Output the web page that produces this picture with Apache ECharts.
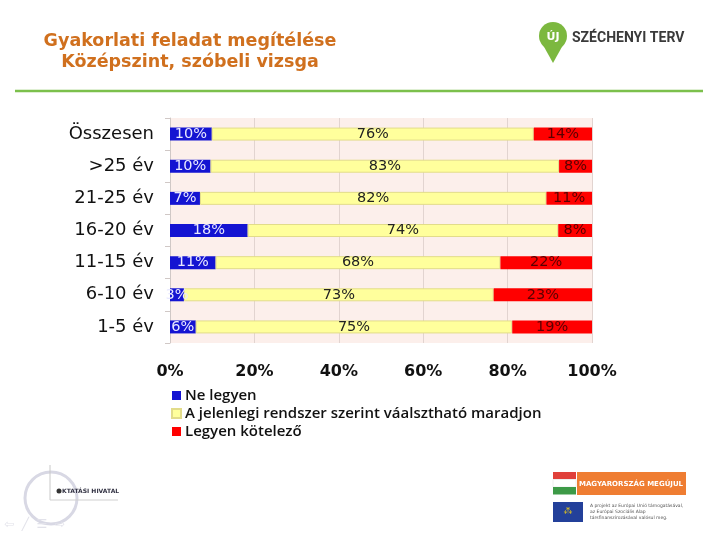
<!DOCTYPE html>
<html><head><meta charset="utf-8">
<script src="https://cdn.jsdelivr.net/npm/echarts@6/dist/echarts.min.js"></script>
<style>html,body{margin:0;padding:0;background:#fff}#c{width:720px;height:540px}</style>
</head><body><div id="c"></div>
<script>
const categories = ['Összesen', '>25 év', '21-25 év', '16-20 év', '11-15 év', '6-10 év', '1-5 év'];
const seriesNames = ['Ne legyen', 'A jelenlegi rendszer szerint váalsztható maradjon', 'Legyen kötelező'];
const neLegyen = [9.9, 9.6, 7.1, 18.4, 10.8, 3.3, 6.1];
const valaszthato = [76.3, 82.6, 82.1, 73.6, 67.5, 73.4, 75.0];
const kotelezo = [13.8, 7.8, 10.8, 8.0, 21.7, 23.3, 18.9];
const xTicks = [0, 20, 40, 60, 80, 100];

const chart = echarts.init(document.getElementById('c'), null, {renderer: 'canvas'});
const labelFont = 'DejaVu Sans, Verdana, sans-serif';
function mk(name, data, color, labelColor, border) {
  return {
    name: name, type: 'bar', stack: 'all', data: data, barWidth: 13,
    itemStyle: {color: color, borderColor: border || color, borderWidth: border ? 1 : 0},
    label: {show: true, position: 'inside', color: labelColor, fontFamily: labelFont, fontSize: 14.5,
      formatter: p => Math.round(p.value) + '%'},
    emphasis: {disabled: true}
  };
}
chart.setOption({
  animation: false,
  backgroundColor: '#fff',
  grid: {left: 170, right: 128, top: 118, bottom: 197, show: true, backgroundColor: '#fcefeb', borderWidth: 0},
  xAxis: {type: 'value', min: 0, max: 100, interval: 20,
    axisLine: {show: false}, axisTick: {show: false},
    splitLine: {show: true, lineStyle: {color: '#e2d4d0', width: 1}},
    axisLabel: {formatter: v => v + '%', color: '#111', fontFamily: labelFont, fontWeight: 'bold', fontSize: 16, margin: 21}
  },
  yAxis: {type: 'category', data: categories, inverse: true,
    axisLine: {show: true, lineStyle: {color: '#d0c8c6'}},
    axisTick: {show: true, length: 5, lineStyle: {color: '#d0c8c6'}},
    axisLabel: {color: '#111', fontFamily: labelFont, fontSize: 18, margin: 16}
  },
  legend: {orient: 'vertical', left: 166, top: 383, itemWidth: 9, itemHeight: 9, itemGap: 3,
    icon: 'rect', selectedMode: false,
    textStyle: {color: '#111', fontFamily: 'Open Sans, Noto Sans, sans-serif', fontWeight: 600, fontSize: 15, padding: [0,0,0,-1]},
    data: seriesNames
  },
  series: [
    mk(seriesNames[0], neLegyen, '#1414d2', '#e8e8ff'),
    mk(seriesNames[1], valaszthato, '#ffff9c', '#222', '#e2dc8a'),
    mk(seriesNames[2], kotelezo, '#ff0000', '#5a0000')
  ],
  graphic: [
    {type: 'text', style: {text: 'Gyakorlati feladat megítélése\nKözépszint, szóbeli vizsga', x: 190, y: 31,
      align: 'center', fill: '#d0701e', font: 'bold 17.5px DejaVu Sans, Verdana, sans-serif', lineHeight: 21}},
    {type: 'line', shape: {x1: 15, y1: 91, x2: 703, y2: 91}, style: {stroke: '#7cc04c', lineWidth: 2.5}},
    // Széchenyi Terv logo
    {type: 'polygon', shape: {points: [[543, 45], [563, 45], [553, 63]]}, style: {fill: '#7cb83f'}},
    {type: 'circle', shape: {cx: 553, cy: 36, r: 14}, style: {fill: '#7cb83f'}},
    {type: 'text', style: {text: 'ÚJ', x: 553, y: 37, align: 'center', verticalAlign: 'middle', fill: '#fff', font: 'bold 11px DejaVu Sans, sans-serif'}},
    {type: 'text', style: {text: 'SZÉCHENYI TERV', x: 572, y: 38, verticalAlign: 'middle', fill: '#3a3a3a', font: 'bold 14px Roboto, DejaVu Sans, sans-serif'}},
    // Oktatási Hivatal logo
    {type: 'circle', shape: {cx: 51, cy: 498, r: 26}, style: {fill: 'none', stroke: '#d8d8e4', lineWidth: 3}},
    {type: 'line', shape: {x1: 50, y1: 465, x2: 50, y2: 500}, style: {stroke: '#c8c8c8', lineWidth: 1}},
    {type: 'line', shape: {x1: 50, y1: 500, x2: 118, y2: 500}, style: {stroke: '#d0d0d0', lineWidth: 1}},
    {type: 'circle', shape: {cx: 59, cy: 491, r: 2.5}, style: {fill: '#333'}},
    {type: 'text', style: {text: 'KTATÁSI HIVATAL', x: 62, y: 491, verticalAlign: 'middle', fill: '#334', font: 'bold 6px DejaVu Sans, sans-serif'}},
    {type: 'text', style: {text: '⇦  ╱  ☰  ⇨', x: 4, y: 525, verticalAlign: 'middle', fill: '#e2e2ea', font: '12px DejaVu Sans, sans-serif'}},
    // Magyarország megújul
    {type: 'rect', shape: {x: 553, y: 472, width: 23, height: 7.5}, style: {fill: '#e0403a'}},
    {type: 'rect', shape: {x: 553, y: 479.5, width: 23, height: 7.5}, style: {fill: '#fff', stroke: '#eee'}},
    {type: 'rect', shape: {x: 553, y: 487, width: 23, height: 7.5}, style: {fill: '#3d9a47'}},
    {type: 'rect', shape: {x: 577, y: 472, width: 109, height: 23}, style: {fill: '#ef7d32'}},
    {type: 'text', style: {text: 'MAGYARORSZÁG MEGÚJUL', x: 631, y: 484, align: 'center', verticalAlign: 'middle', fill: '#fff', font: 'bold 7px DejaVu Sans, sans-serif'}},
    {type: 'rect', shape: {x: 553, y: 502, width: 30, height: 20}, style: {fill: '#23409a'}},
    {type: 'text', style: {text: '⁂', x: 568, y: 512, align: 'center', verticalAlign: 'middle', fill: '#f5d20f', font: '9px DejaVu Sans, sans-serif'}},
    {type: 'text', style: {text: 'A projekt az Európai Unió támogatásával,\naz Európai Szociális Alap\ntársfinanszírozásával valósul meg.', x: 590, y: 503, fill: '#555', font: '4.5px DejaVu Sans, sans-serif', lineHeight: 6}}
  ]
});
</script></body></html>
